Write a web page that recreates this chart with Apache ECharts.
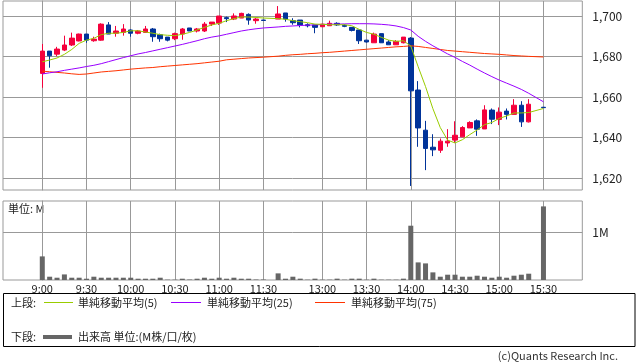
<!DOCTYPE html>
<html>
<head>
<meta charset="utf-8">
<script src="https://cdn.jsdelivr.net/npm/echarts@6/dist/echarts.min.js"></script>
<style>
html,body{margin:0;padding:0;background:#fff;}
#c{width:638px;height:362px;}
</style>
</head>
<body>
<div id="c"></div>
<script>
// slot index: 0 = 9:00, 5-minute steps; 31 = lunch gap, 32 = 12:30, 68 = 15:30
const slots = [0,1,2,3,4,5,6,7,8,9,10,11,12,13,14,15,16,17,18,19,20,21,22,23,24,25,26,27,28,29,30,
  32,33,34,35,36,37,38,39,40,41,42,43,44,45,46,47,48,49,50,51,52,53,54,55,56,57,58,59,60,61,62,63,64,65,66,68];

const openP = [1671.7,1682.7,1681.2,1683.2,1685.7,1687.7,1691.1,1687.8,1688.1,1695.6,1691.5,1691.9,1693.1,1691.5,1691.9,1693.6,1690.8,1689.6,1688.8,1691.1,1694.1,1692.6,1692.6,1696.0,1696.5,1699.2,1698.5,1699.0,1700.8,1697.7,1698.0,
  1698.5,1701.5,1697.7,1698.0,1695.7,1695.6,1694.7,1695.2,1696.4,1695.4,1694.4,1693.1,1688.1,1686.8,1691.3,1687.2,1685.8,1686.8,1689.1,1663.5,1643.7,1635.3,1633.8,1637.4,1638.8,1640.4,1644.8,1648.3,1644.3,1653.6,1649.0,1653.1,1651.5,1656.0,1647.8,1655.0];
const closeP = [1682.7,1680.4,1683.7,1685.7,1689.1,1691.1,1688.1,1688.6,1696.0,1691.1,1692.6,1693.6,1691.5,1692.6,1693.6,1689.8,1688.8,1688.1,1691.3,1693.6,1692.6,1693.6,1696.0,1697.0,1700.0,1698.7,1700.0,1701.3,1698.0,1698.5,1697.8,
  1701.0,1698.5,1696.7,1695.6,1695.2,1694.4,1696.0,1696.4,1695.6,1694.9,1692.9,1687.8,1687.2,1691.1,1686.8,1685.8,1687.5,1689.6,1663.1,1644.8,1634.7,1634.0,1638.3,1638.3,1641.2,1645.0,1647.5,1644.2,1653.7,1649.1,1652.6,1651.5,1656.0,1647.8,1656.5,1654.8];
const lowP = [1664.6,1674.5,1680.2,1682.7,1685.2,1687.5,1686.8,1687.3,1687.8,1691.1,1689.8,1690.3,1689.8,1691.0,1691.7,1687.3,1687.3,1687.5,1688.1,1688.3,1692.6,1691.9,1692.1,1695.1,1695.6,1697.0,1698.0,1699.0,1695.7,1696.2,1697.8,
  1698.5,1697.2,1695.7,1694.4,1694.4,1691.5,1694.7,1695.2,1695.1,1694.5,1692.4,1686.2,1686.9,1686.8,1686.8,1685.8,1685.8,1686.5,1616.2,1635.5,1624.0,1630.9,1632.5,1635.5,1637.4,1640.4,1644.8,1640.9,1644.3,1646.7,1646.2,1649.0,1651.5,1645.3,1647.5,1654.8];
const highP = [1686.2,1682.7,1684.8,1690.3,1691.8,1691.3,1691.1,1689.8,1696.4,1697.0,1695.1,1696.0,1693.4,1693.1,1695.1,1694.1,1691.3,1689.6,1691.8,1694.1,1694.1,1694.1,1697.0,1697.0,1700.0,1699.7,1701.3,1701.6,1701.3,1699.0,1698.0,
  1704.9,1701.5,1698.9,1698.0,1696.4,1695.6,1696.0,1697.7,1696.9,1695.9,1694.4,1693.1,1688.1,1691.8,1691.3,1688.1,1688.1,1689.6,1689.6,1667.9,1648.3,1641.7,1639.6,1644.2,1648.1,1645.7,1648.1,1649.0,1656.0,1654.4,1654.9,1654.4,1659.0,1658.0,1659.0,1655.0];

const ma5 = [1677.4,1678.3,1679.3,1681.1,1683.5,1686.5,1688.1,1689.0,1690.8,1691.5,1691.5,1691.9,1692.7,1692.7,1692.1,1691.5,1690.8,1690.5,1690.3,1691.0,1691.9,1693.1,1694.4,1695.6,1696.4,1697.7,1698.7,1699.5,1699.5,1699.3,1699.0,
  1698.7,1698.4,1697.7,1697.2,1696.7,1696.0,1695.9,1695.7,1695.7,1695.7,1695.2,1693.4,1691.9,1691.0,1689.5,1688.1,1687.5,1687.8,1685.2,1675.0,1665.2,1654.3,1645.0,1638.8,1637.4,1639.0,1641.5,1643.8,1646.4,1647.5,1649.5,1650.7,1652.2,1652.2,1652.4,1654.4];
const ma25 = [1671.4,1672.0,1672.5,1673.2,1673.8,1674.4,1675.1,1675.7,1676.5,1677.5,1678.5,1679.5,1680.4,1681.3,1682.0,1682.8,1683.6,1684.4,1685.2,1686.0,1686.9,1687.8,1688.8,1689.6,1690.2,1691.0,1691.8,1692.6,1693.2,1693.7,1694.1,
  1694.6,1694.9,1695.1,1695.3,1695.5,1695.6,1695.8,1696.0,1696.0,1696.1,1696.2,1696.2,1696.2,1696.1,1695.9,1695.6,1695.1,1694.3,1693.1,1690.0,1687.5,1685.3,1683.3,1681.3,1679.6,1677.6,1675.8,1673.8,1671.9,1670.1,1668.4,1666.9,1665.4,1663.8,1661.9,1657.7];
const ma75 = [1672.8,1672.5,1672.2,1671.9,1671.5,1671.2,1671.4,1671.9,1672.4,1672.7,1673.0,1673.4,1673.8,1674.1,1674.4,1674.6,1675.0,1675.3,1675.6,1675.9,1676.2,1676.5,1676.9,1677.3,1677.7,1678.4,1678.7,1679.0,1679.3,1679.5,1679.7,
  1680.2,1680.6,1680.9,1681.1,1681.4,1681.6,1681.9,1682.1,1682.4,1682.7,1683.0,1683.3,1683.6,1683.9,1684.2,1684.5,1684.8,1685.0,1685.3,1685.0,1684.5,1684.0,1683.5,1683.0,1682.7,1682.4,1682.1,1681.8,1681.5,1681.3,1681.1,1680.8,1680.5,1680.3,1680.1,1679.8];

// volume in millions
const volume = [0.495,0.069,0.048,0.117,0.048,0.048,0.027,0.069,0.048,0.048,0.048,0.048,0.048,0.027,0.027,0.027,0.048,0.007,0.007,0.027,0.010,0.027,0.048,0.027,0.048,0.027,0.048,0.027,0.027,0.010,0.010,
  0.139,0.027,0.069,0.028,0.007,0.028,0.007,0.007,0.028,0.007,0.028,0.028,0.007,0.028,0.007,0.007,0.007,0.028,1.138,0.369,0.348,0.160,0.069,0.111,0.111,0.069,0.069,0.090,0.069,0.048,0.069,0.048,0.090,0.111,0.132,1.543];

const timeTicks = [0,6,12,18,24,30,38,44,50,56,62,68];
const timeLabels = ['9:00','9:30','10:00','10:30','11:00','11:30','13:00','13:30','14:00','14:30','15:00','15:30'];
const priceTicks = [1620,1640,1660,1680,1700];
const volTicks = [1];
const volTickLabels = ['1M'];

const FONT = '"Noto Sans CJK JP", "Noto Sans", sans-serif';
const GRID = '#999999';
const TXT = '#222222';

const fmtPrice = v => String(Math.round(v)).replace(/\B(?=(\d{3})+(?!\d))/g, ',');

const chart = echarts.init(document.getElementById('c'), null, {renderer: 'canvas'});

const candleData = slots.map((s, k) => [s, openP[k], closeP[k], lowP[k], highP[k]]);
const lineData = arr => slots.map((s, k) => [s, arr[k]]);
const volData = slots.map((s, k) => [s, volume[k]]);

const xCommon = {
  type: 'value', min: -5.33, max: 73.27,
  axisLine: {show: false},
  splitLine: {show: true, lineStyle: {color: GRID, width: 1}}
};

chart.setOption({
  animation: false,
  backgroundColor: '#fff',
  textStyle: {fontFamily: FONT},
  grid: [
    {left: 3, right: 55.7, top: 1, height: 189, show: true, borderColor: GRID, borderWidth: 1},
    {left: 3, right: 55.7, top: 201, height: 79, show: true, borderColor: GRID, borderWidth: 1}
  ],
  xAxis: [
    Object.assign({}, xCommon, {gridIndex: 0,
      axisTick: {show: false, customValues: timeTicks},
      axisLabel: {show: false, customValues: timeTicks}}),
    Object.assign({}, xCommon, {gridIndex: 1,
      axisTick: {show: false, customValues: timeTicks},
      axisLabel: {show: true, customValues: timeTicks, margin: 3, fontSize: 11, color: TXT, fontFamily: FONT,
        formatter: v => { const i = timeTicks.indexOf(Math.round(v)); return i >= 0 ? timeLabels[i] : ''; }}})
  ],
  yAxis: [
    {type: 'value', gridIndex: 0, position: 'right', min: 1614.2, max: 1707.4,
      axisLine: {show: true, lineStyle: {color: GRID}},
      axisTick: {show: true, inside: false, length: 6, customValues: priceTicks, lineStyle: {color: GRID}},
      axisLabel: {customValues: priceTicks, formatter: fmtPrice, margin: 10, fontSize: 12, color: TXT, fontFamily: FONT},
      splitLine: {show: true, lineStyle: {color: GRID}}},
    {type: 'value', gridIndex: 1, position: 'right', min: 0, max: 1.656,
      axisLine: {show: true, lineStyle: {color: GRID}},
      axisTick: {show: true, inside: false, length: 6, customValues: volTicks, lineStyle: {color: GRID}},
      axisLabel: {customValues: volTicks, margin: 10, fontSize: 12, color: TXT, fontFamily: FONT,
        formatter: v => { const i = volTicks.indexOf(Math.round(v)); return i >= 0 ? volTickLabels[i] : ''; }},
      splitLine: {show: true, lineStyle: {color: GRID}}}
  ],
  series: [
    {type: 'candlestick', xAxisIndex: 0, yAxisIndex: 0, data: candleData,
      encode: {x: 0, y: [1, 2, 3, 4]}, barWidth: 5,
      itemStyle: {color: '#f5003c', color0: '#003399', borderColor: '#f5003c', borderColor0: '#003399', borderWidth: 1}},
    {type: 'line', name: 'MA75', xAxisIndex: 0, yAxisIndex: 0, data: lineData(ma75), showSymbol: false, symbol: 'none',
      lineStyle: {color: '#ff3300', width: 1}},
    {type: 'line', name: 'MA25', xAxisIndex: 0, yAxisIndex: 0, data: lineData(ma25), showSymbol: false, symbol: 'none',
      lineStyle: {color: '#9900ff', width: 1}},
    {type: 'line', name: 'MA5', xAxisIndex: 0, yAxisIndex: 0, data: lineData(ma5), showSymbol: false, symbol: 'none',
      lineStyle: {color: '#99cc00', width: 1}},
    {type: 'bar', xAxisIndex: 1, yAxisIndex: 1, data: volData, barWidth: 5,
      itemStyle: {color: '#666666'}}
  ],
  graphic: [
    {type: 'text', left: 8, top: 203, style: {text: '単位: M', font: '11px ' + FONT, fill: TXT}},
    {type: 'rect', shape: {x: 3.5, y: 293.5, width: 631.5, height: 53}, style: {fill: 'none', stroke: '#000', lineWidth: 1}},
    {type: 'text', x: 11, y: 303, style: {text: '上段:', font: '11px ' + FONT, fill: TXT, verticalAlign: 'middle'}},
    {type: 'line', shape: {x1: 44, y1: 302.5, x2: 73, y2: 302.5}, style: {stroke: '#99cc00', lineWidth: 1}},
    {type: 'text', x: 78, y: 303, style: {text: '単純移動平均(5)', font: '11px ' + FONT, fill: TXT, verticalAlign: 'middle'}},
    {type: 'line', shape: {x1: 171, y1: 302.5, x2: 201, y2: 302.5}, style: {stroke: '#9900ff', lineWidth: 1}},
    {type: 'text', x: 207, y: 303, style: {text: '単純移動平均(25)', font: '11px ' + FONT, fill: TXT, verticalAlign: 'middle'}},
    {type: 'line', shape: {x1: 315, y1: 302.5, x2: 345, y2: 302.5}, style: {stroke: '#ff3300', lineWidth: 1}},
    {type: 'text', x: 351, y: 303, style: {text: '単純移動平均(75)', font: '11px ' + FONT, fill: TXT, verticalAlign: 'middle'}},
    {type: 'text', x: 11, y: 337, style: {text: '下段:', font: '11px ' + FONT, fill: TXT, verticalAlign: 'middle'}},
    {type: 'line', shape: {x1: 43, y1: 337, x2: 72, y2: 337}, style: {stroke: '#666666', lineWidth: 4}},
    {type: 'text', x: 78, y: 337, style: {text: '出来高 単位:(M株/口/枚)', font: '11px ' + FONT, fill: TXT, verticalAlign: 'middle'}},
    {type: 'text', x: 618, y: 356, style: {text: '(c)Quants Research Inc.', font: '11px ' + FONT, fill: '#333', align: 'right', verticalAlign: 'middle'}}
  ]
});
</script>
</body>
</html>
